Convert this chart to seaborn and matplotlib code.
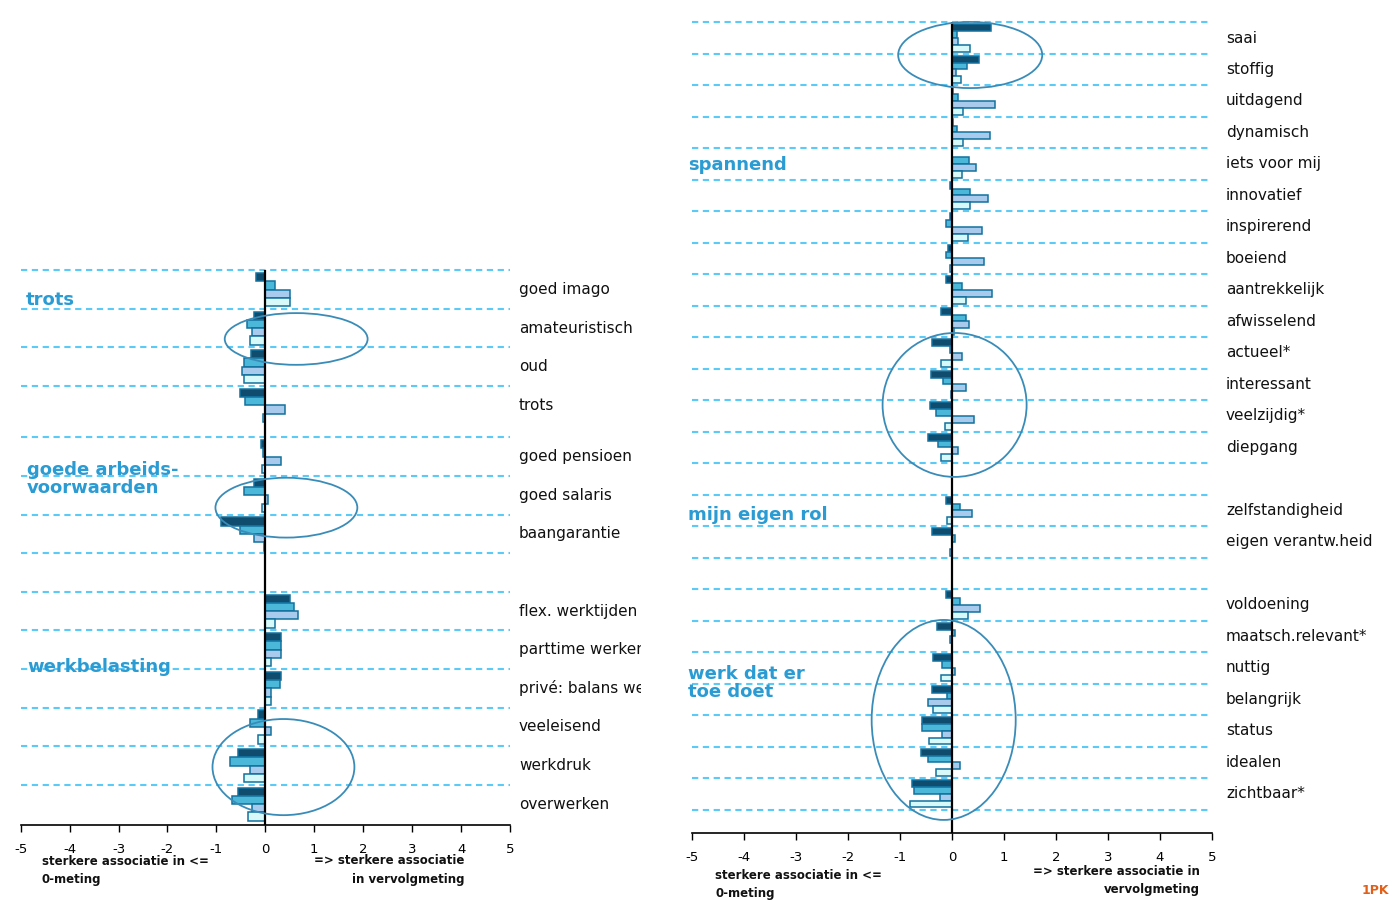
import numpy as np
import pandas as pd
import matplotlib.pyplot as plt
import seaborn as sns
from matplotlib.patches import Ellipse
from matplotlib.colors import LinearSegmentedColormap, to_rgb
from matplotlib.transforms import Bbox, TransformedBbox

# --- data -----------------------------------------------------------------
series = ["meting A", "meting B", "meting C", "meting D"]

left_items = ["goed imago", "amateuristisch", "oud", "trots",
              "goed pensioen", "goed salaris", "baangarantie", "",
              "flex. werktijden", "parttime werken", "privé: balans werk-privé",
              "veeleisend", "werkdruk", "overwerken"]
left_a = [-0.20, -0.24, -0.29, -0.51, -0.08, -0.24, -0.91, None, 0.51, 0.31, 0.31, -0.14, -0.55, -0.55]
left_b = [0.19, -0.37, -0.44, -0.41, -0.05, -0.44, -0.51, None, 0.58, 0.33, 0.29, -0.32, -0.73, -0.68]
left_c = [0.51, -0.27, -0.48, 0.40, 0.33, 0.05, -0.24, None, 0.66, 0.33, 0.12, 0.12, -0.31, -0.27]
left_d = [0.51, -0.32, -0.43, -0.05, -0.07, -0.07, -0.02, None, 0.20, 0.12, 0.12, -0.16, -0.44, -0.36]

right_items = ["saai", "stoffig", "uitdagend", "dynamisch", "iets voor mij", "innovatief",
               "inspirerend", "boeiend", "aantrekkelijk", "afwisselend", "actueel*",
               "interessant", "veelzijdig*", "diepgang", "",
               "zelfstandigheid", "eigen verantw.heid", "",
               "voldoening", "maatsch.relevant*", "nuttig", "belangrijk", "status",
               "idealen", "zichtbaar*"]
right_a = [0.75, 0.52, 0.02, 0.02, 0.0, -0.03, -0.03, -0.08, -0.11, -0.22, -0.38, -0.41, -0.43, -0.46,
           None, -0.11, -0.38, None, -0.11, -0.29, -0.36, -0.38, -0.57, -0.59, -0.76]
right_b = [0.10, 0.29, 0.11, 0.10, 0.32, 0.35, -0.11, -0.11, 0.19, 0.27, -0.03, -0.17, -0.30, -0.27,
           None, 0.16, 0.05, None, 0.16, 0.05, -0.19, -0.10, -0.57, -0.46, -0.73]
right_c = [0.11, 0.08, 0.82, 0.73, 0.46, 0.70, 0.57, 0.62, 0.76, 0.32, 0.19, 0.27, 0.43, 0.11,
           None, 0.38, 0.0, None, 0.54, -0.03, 0.05, -0.46, -0.19, 0.16, -0.24]
right_d = [0.35, 0.17, 0.22, 0.22, 0.19, 0.35, 0.31, -0.03, 0.27, 0.03, -0.22, -0.02, -0.14, -0.22,
           None, -0.10, -0.04, None, 0.31, 0.0, -0.22, -0.37, -0.45, -0.31, -0.81]

xticks = [-5, -4, -3, -2, -1, 0, 1, 2, 3, 4, 5]

# --- style ----------------------------------------------------------------
sns.set_theme(style="white")
plt.rcParams["font.family"] = ["DejaVu Sans"]

colors = ["#00507e", "#33c4f2", "#9ccbf9", "#d2ffff"]
edge = "#13719d"
dash_col = "#5ccaf7"
group_col = "#2a9bd3"
ring_col = "#3a8cb8"
grad_cmap = LinearSegmentedColormap.from_list("navy", ["#0a72a2", "#00264f"])


def slot_positions(items, gap_after=None, gap=0.0):
    pos, extra = [], 0.0
    for i, _ in enumerate(items):
        pos.append(i + extra)
        if gap_after is not None and i == gap_after:
            extra += gap
    return pos


def long_frame(items, cols, positions):
    rows = []
    for i, item in enumerate(items):
        for name, vals in zip(series, cols):
            if vals[i] is None:
                continue
            rows.append({"item": item, "pos": positions[i], "serie": name, "value": vals[i]})
    return pd.DataFrame(rows)


def draw_panel(ax, items, cols, positions, ylim, clip_x, bottom_dash, label_pad):
    df = long_frame(items, cols, positions)
    sns.barplot(data=df, x="value", y="pos", hue="serie", hue_order=series,
                palette=colors, orient="y", native_scale=True, width=0.86,
                edgecolor=edge, linewidth=1.1, legend=False, errorbar=None, ax=ax)

    # gradient on the darkest series
    grad = np.linspace(0, 1, 256).reshape(1, -1)
    dark = np.array(to_rgb(colors[0]))
    for p in list(ax.patches):
        fc = np.array(p.get_facecolor()[:3])
        if np.abs(fc - dark).max() > 0.02 or p.get_width() == 0:
            continue
        x0, y0, w, h = p.get_x(), p.get_y(), p.get_width(), p.get_height()
        im = ax.imshow(grad, cmap=grad_cmap, extent=(x0, x0 + w, y0 + h, y0),
                       aspect="auto", interpolation="bilinear", zorder=p.get_zorder() - 0.01)
        im.set_clip_path(p)
        p.set_facecolor("none")
        p.set_edgecolor("#003e66")

    tops = [p - 0.5 for p in positions]
    if bottom_dash:
        tops.append(positions[-1] + 0.5)
    for t in tops:
        ax.axhline(t, color=dash_col, lw=1.5, ls=(0, (3, 2.2)), zorder=0.5)

    ax.vlines(0, positions[0] - 0.5, ylim[0], color="black", lw=1.6, zorder=5)

    clip = TransformedBbox(Bbox.from_extents(0, 0, clip_x, 1), ax.figure.transFigure)
    for item, p in zip(items, positions):
        if not item:
            continue
        t = ax.annotate(item, xy=(1, p), xycoords=ax.get_yaxis_transform(),
                        xytext=(label_pad, 0), textcoords="offset pixels",
                        va="center", ha="left", fontsize=11, color="#111111",
                        annotation_clip=False)
        t.set_clip_box(clip)
        t.set_clip_on(True)

    ax.set_xlim(-5, 5)
    ax.set_ylim(*ylim)
    ax.set_xticks(xticks)
    ax.set_xticklabels([str(v) for v in xticks])
    ax.set_yticks([])
    ax.set_xlabel("")
    ax.set_ylabel("")
    for side in ["left", "right", "top"]:
        ax.spines[side].set_visible(False)
    ax.spines["bottom"].set_color("black")
    ax.spines["bottom"].set_linewidth(1.2)
    ax.tick_params(axis="x", direction="out", length=5, width=1, colors="black",
                   labelsize=9.5, pad=8, bottom=True)
    ax.patch.set_alpha(0)


fig = plt.figure(figsize=(13.92, 9), dpi=100)
W, H = 1392, 900

ax_l = fig.add_axes([20.7 / W, 1 - 825 / H, 489.3 / W, (825 - 266) / H])
ax_r = fig.add_axes([692.0 / W, 1 - 833 / H, 520.0 / W, (833 - 18) / H])

left_pos = slot_positions(left_items, gap_after=3, gap=0.33)
right_pos = slot_positions(right_items)

draw_panel(ax_l, left_items, [left_a, left_b, left_c, left_d], left_pos,
           (13.87, -0.61), 641 / W, False, 9)
draw_panel(ax_r, right_items, [right_a, right_b, right_c, right_d], right_pos,
           (25.24, -0.635), 1.0, True, 14)

# circled groups
for ax, (cx, cy, w, h) in [(ax_l, (0.63, 1.28, 2.92, 1.34)),
                           (ax_l, (0.43, 5.65, 2.90, 1.55)),
                           (ax_l, (0.37, 12.37, 2.90, 2.49)),
                           (ax_r, (0.35, 0.54, 2.77, 2.10)),
                           (ax_r, (0.05, 11.65, 2.77, 4.57)),
                           (ax_r, (-0.16, 21.65, 2.77, 6.35))]:
    ax.add_patch(Ellipse((cx, cy), w, h, fill=False, ec=ring_col, lw=1.3, zorder=6))

# group titles
for x, y, txt in [(26, 300, "trots"),
                  (27, 479, "goede arbeids-\nvoorwaarden"),
                  (27, 667, "werkbelasting"),
                  (688, 165, "spannend"),
                  (688, 515, "mijn eigen rol"),
                  (688, 683, "werk dat er\ntoe doet")]:
    fig.text(x / W, 1 - y / H, txt, color=group_col, fontsize=13, fontweight="bold",
             ha="left", va="center", linespacing=1.05)

# axis notes
note = dict(fontsize=8.5, fontweight="bold", color="#111111", va="top", linespacing=1.55)
fig.text(42 / W, 1 - 855 / H, "sterkere associatie in <=\n0-meting", ha="left", **note)
fig.text(464 / W, 1 - 854 / H, "=> sterkere associatie\nin vervolgmeting", ha="right",
         multialignment="right", **note)
fig.text(715 / W, 1 - 869 / H, "sterkere associatie in <=\n0-meting", ha="left", **note)
fig.text(1200 / W, 1 - 865 / H, "=> sterkere associatie in\nvervolgmeting", ha="right",
         multialignment="right", **note)

fig.text(1389 / W, 1 - 897 / H, "1PK", color="#e0601a", fontsize=9, fontweight="bold",
         ha="right", va="bottom")

fig.savefig("out.png", dpi=100)
